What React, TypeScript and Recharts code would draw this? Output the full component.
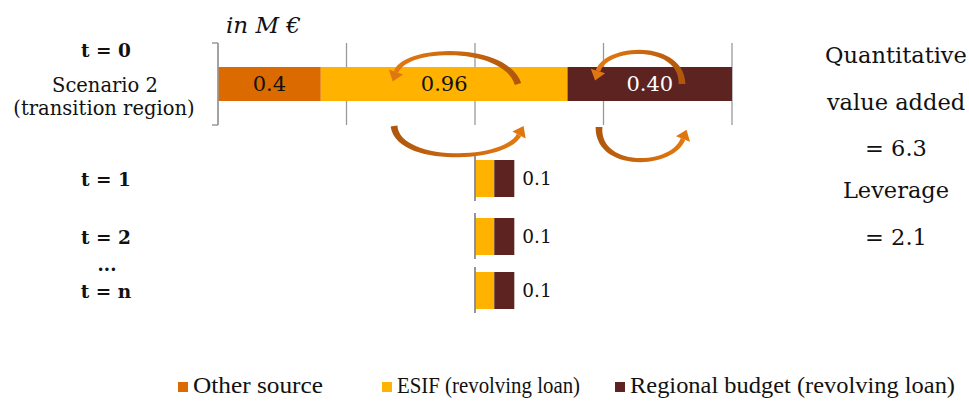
import React from "react";
import { BarChart, Bar, XAxis, YAxis, CartesianGrid, ReferenceLine, LabelList } from "recharts";

// rows of the scheme, values in M €
const rowNames = ["t = 0", "t = 1", "t = 2", "t = n"];
const startAt = [0, 1, 1, 1];
const otherSource = [0.4, 0, 0, 0];
const esifLoan = [0.96, 0.075, 0.075, 0.075];
const regionalLoan = [0.64, 0.078, 0.078, 0.078];
const otherLabels = ["0.4", "", "", ""];
const esifLabels = ["0.96", "", "", ""];
const regionalLabels = ["0.40", "", "", ""];
const totalLabels = ["", "0.1", "0.1", "0.1"];
const xTicks = [0, 0.5, 1, 1.5, 2];

const scenarioLines = ["Scenario 2", "(transition region)"];
const rightNotes = ["Quantitative", "value added", "= 6.3", "Leverage", "= 2.1"];
const seriesNames = ["Other source", "ESIF (revolving loan)", "Regional budget (revolving loan)"];
const seriesColors = ["#DB6A00", "#FFB200", "#5C2320"];

const SERIF = "'DejaVu Serif', serif";
const LEGEND_FONT = "'Liberation Serif', 'Times New Roman', serif";
const GRID = "#9a9a9a";

// chart frame shared by every row so they use the same scale
const CHART_W = 760;
const AXIS_W = 218;
const rowTops = [35, 155, 213, 267];
const rowHeights = [100, 46, 46, 46];
const rowBarSize = [34, 37, 37, 37];
const noteBaselines = [63, 110, 156, 198, 245];
const legendLefts = [178, 382, 615];
const legendWidths = [130, 183, 325];

function MainTick({ y, payload }: any) {
  return (
    <g fontFamily={SERIF} fill="#111">
      <text x={106} y={y - 27} textAnchor="middle" fontWeight="bold" fontSize={18.5}>
        {payload.value}
      </text>
      <text x={105} y={y + 8} textAnchor="middle" fontSize={19.5}>
        {scenarioLines[0]}
      </text>
      <text x={104} y={y + 31} textAnchor="middle" fontSize={19.5}>
        {scenarioLines[1]}
      </text>
      <path d={`M212,${y - 41} H${AXIS_W} M212,${y + 41} H${AXIS_W}`} stroke={GRID} strokeWidth={1.5} fill="none" />
    </g>
  );
}

function RowTick({ y, payload }: any) {
  return (
    <text x={106} y={y + 8} textAnchor="middle" fontFamily={SERIF} fontWeight="bold" fontSize={18.5} fill="#111">
      {payload.value}
    </text>
  );
}

function RowChart({ index }: { index: number }) {
  const main = index === 0;
  const data = [
    {
      name: rowNames[index],
      start: startAt[index],
      other: otherSource[index],
      esif: esifLoan[index],
      regional: regionalLoan[index],
      otherLabel: otherLabels[index],
      esifLabel: esifLabels[index],
      regionalLabel: regionalLabels[index],
      total: totalLabels[index],
    },
  ];
  const pad = main ? { top: 8, bottom: 10 } : { top: 0, bottom: 0 };
  return (
    <div style={{ position: "absolute", left: 0, top: rowTops[index] }}>
      <BarChart
        width={CHART_W}
        height={rowHeights[index]}
        data={data}
        layout="vertical"
        barSize={rowBarSize[index]}
        margin={{ top: pad.top, bottom: pad.bottom, left: 0, right: CHART_W - 732 }}
      >
        {main && <CartesianGrid horizontal={false} stroke={GRID} strokeWidth={1.3} />}
        <XAxis type="number" domain={[0, 2]} ticks={xTicks} hide />
        <YAxis
          type="category"
          dataKey="name"
          width={AXIS_W}
          axisLine={main ? { stroke: GRID, strokeWidth: 1.5 } : false}
          tickLine={false}
          tick={main ? <MainTick /> : <RowTick />}
        />
        <Bar dataKey="start" stackId="s" fill="transparent" legendType="none" isAnimationActive={false} />
        <Bar dataKey="other" stackId="s" fill={seriesColors[0]} isAnimationActive={false}>
          {main && (
            <LabelList dataKey="otherLabel" position="center" fill="#111" fontSize={21} fontFamily={SERIF} />
          )}
        </Bar>
        <Bar dataKey="esif" stackId="s" fill={seriesColors[1]} isAnimationActive={false}>
          {main && (
            <LabelList dataKey="esifLabel" position="center" fill="#111" fontSize={21} fontFamily={SERIF} />
          )}
        </Bar>
        <Bar dataKey="regional" stackId="s" fill={seriesColors[2]} isAnimationActive={false}>
          {main ? (
            <LabelList dataKey="regionalLabel" position="center" fill="#fff" fontSize={21} fontFamily={SERIF} />
          ) : (
            <LabelList dataKey="total" position="right" offset={8} fill="#111" fontSize={18.5} fontFamily={SERIF} />
          )}
        </Bar>
        {!main && <ReferenceLine x={1} stroke="#8a8a8a" strokeWidth={1.8} />}
      </BarChart>
    </div>
  );
}

// tapered curved arrow: tail -> two controls -> end, head drawn past the end
function Arrow({ p, id }: { p: number[]; id: string }) {
  const [x0, y0, x1, y1, x2, y2, x3, y3] = p;
  const pt = (t: number) => {
    const a = (1 - t) ** 3, b = 3 * (1 - t) ** 2 * t, c = 3 * (1 - t) * t * t, d = t ** 3;
    return [a * x0 + b * x1 + c * x2 + d * x3, a * y0 + b * y1 + c * y2 + d * y3];
  };
  const left: string[] = [];
  const right: string[] = [];
  const n = 30;
  for (let i = 0; i <= n; i++) {
    const t = i / n;
    const [px, py] = pt(t);
    const [qx, qy] = pt(Math.min(1, t + 0.01));
    const [rx, ry] = pt(Math.max(0, t - 0.01));
    const tx = qx - rx, ty = qy - ry;
    const l = Math.hypot(tx, ty) || 1;
    const w = 1.2 + 2.2 * (1 - t) ** 2 + 1.2 * t * t;
    left.push(`${px - (ty / l) * w},${py + (tx / l) * w}`);
    right.unshift(`${px + (ty / l) * w},${py - (tx / l) * w}`);
  }
  const dx = x3 - x2;
  const dy = y3 - y2;
  const len = Math.hypot(dx, dy) || 1;
  const ux = dx / len;
  const uy = dy / len;
  const tipX = x3 + ux * 10;
  const tipY = y3 + uy * 10;
  const head = `${tipX},${tipY} ${x3 - uy * 7.5},${y3 + ux * 7.5} ${x3 + uy * 7.5},${y3 - ux * 7.5}`;
  return (
    <g>
      <defs>
        <linearGradient id={id} gradientUnits="userSpaceOnUse" x1={x0} y1={y0} x2={x3} y2={y3}>
          <stop offset="0%" stopColor="#B0570C" />
          <stop offset="100%" stopColor="#E27810" />
        </linearGradient>
      </defs>
      <polygon points={[...left, ...right].join(" ")} fill={`url(#${id})`} />
      <polygon points={head} fill="#E07610" />
    </g>
  );
}

const arrows = [
  [518, 84, 505, 44, 405, 46, 396, 72],
  [394, 126, 398, 165, 505, 162, 519, 135],
  [682, 84, 682, 42, 606, 45, 598, 71],
  [599, 127, 597, 170, 672, 168, 683, 139],
];

export default function App() {
  return (
    <div style={{ position: "absolute", left: 0, top: 0, width: 969, height: 401, background: "#fff", overflow: "hidden" }}>
      {rowNames.map((_, i) => (
        <RowChart key={i} index={i} />
      ))}
      <svg width={969} height={401} style={{ position: "absolute", left: 0, top: 0, pointerEvents: "none" }}>
        <text x={226} y={33} fontFamily={SERIF} fontStyle="italic" fontSize={23} fill="#111">
          in M €
        </text>
        <text x={107} y={271} textAnchor="middle" fontFamily={SERIF} fontWeight="bold" fontSize={18} fill="#111">
          ...
        </text>
        {rightNotes.map((t, i) => (
          <text key={t} x={896} y={noteBaselines[i]} textAnchor="middle" fontFamily={SERIF} fontSize={22.5} fill="#111">
            {t}
          </text>
        ))}
        {arrows.map((a, i) => (
          <Arrow key={i} id={`arrowGrad${i}`} p={a} />
        ))}
        {seriesNames.map((name, i) => (
          <g key={name}>
            <rect x={legendLefts[i]} y={382} width={10} height={10} fill={seriesColors[i]} />
            <text
              x={legendLefts[i] + 15}
              y={393}
              fontFamily={LEGEND_FONT}
              fontSize={22.5}
              fill="#111"
              textLength={legendWidths[i]}
              lengthAdjust="spacingAndGlyphs"
            >
              {name}
            </text>
          </g>
        ))}
      </svg>
    </div>
  );
}
